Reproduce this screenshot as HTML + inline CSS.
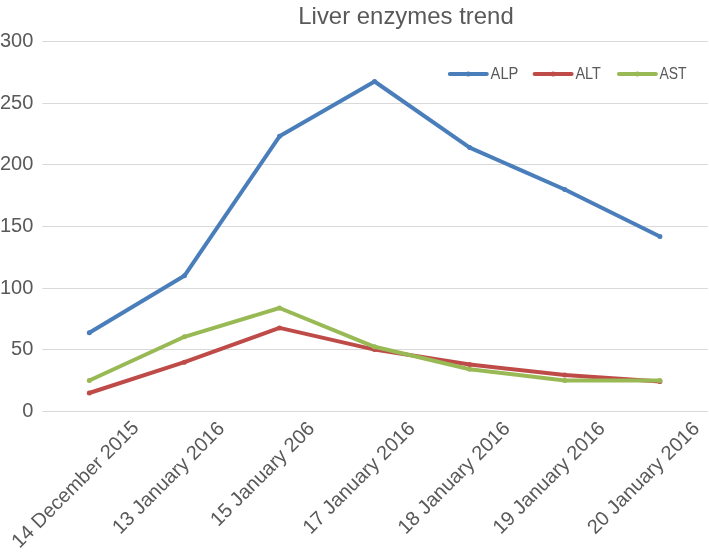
<!DOCTYPE html>
<html><head><meta charset="utf-8"><style>
html,body{margin:0;padding:0;background:#fff;}
svg{display:block;}
text{font-family:"Liberation Sans",sans-serif;fill:#595959;}
</style></head><body>
<div style="will-change:transform"><svg width="709" height="554" viewBox="0 0 709 554">
<g stroke="#D9D9D9" stroke-width="1.2"><line x1="42.3" x2="707.8" y1="41.50" y2="41.50"/><line x1="42.3" x2="707.8" y1="103.50" y2="103.50"/><line x1="42.3" x2="707.8" y1="164.50" y2="164.50"/><line x1="42.3" x2="707.8" y1="226.50" y2="226.50"/><line x1="42.3" x2="707.8" y1="288.50" y2="288.50"/><line x1="42.3" x2="707.8" y1="349.50" y2="349.50"/><line x1="42.3" x2="707.8" y1="411.50" y2="411.50"/></g>
<g font-size="20"><text x="33.3" y="47.00" text-anchor="end">300</text><text x="33.3" y="108.67" text-anchor="end">250</text><text x="33.3" y="170.33" text-anchor="end">200</text><text x="33.3" y="232.00" text-anchor="end">150</text><text x="33.3" y="293.67" text-anchor="end">100</text><text x="33.3" y="355.34" text-anchor="end">50</text><text x="33.3" y="417.00" text-anchor="end">0</text></g>
<text transform="translate(406,23.8) scale(0.985,1)" font-size="24.3" text-anchor="middle">Liver enzymes trend</text>
<g fill="none" stroke-width="4.0" stroke-linejoin="round" stroke-linecap="round"><path d="M89.30,332.80 L184.40,275.80 L279.50,136.30 L374.60,81.50 L469.70,147.60 L564.80,189.50 L659.90,236.50" stroke="#4A7EBB"/></g><circle cx="89.30" cy="332.80" r="2.5" fill="#4A7EBB"/><circle cx="184.40" cy="275.80" r="2.5" fill="#4A7EBB"/><circle cx="279.50" cy="136.30" r="2.5" fill="#4A7EBB"/><circle cx="374.60" cy="81.50" r="2.5" fill="#4A7EBB"/><circle cx="469.70" cy="147.60" r="2.5" fill="#4A7EBB"/><circle cx="564.80" cy="189.50" r="2.5" fill="#4A7EBB"/><circle cx="659.90" cy="236.50" r="2.5" fill="#4A7EBB"/>
<g fill="none" stroke-width="4.0" stroke-linejoin="round" stroke-linecap="round"><path d="M89.30,393.00 L184.40,362.20 L279.50,327.90 L374.60,349.60 L469.70,364.60 L564.80,375.10 L659.90,381.60" stroke="#BE4B48"/></g><circle cx="89.30" cy="393.00" r="2.5" fill="#BE4B48"/><circle cx="184.40" cy="362.20" r="2.5" fill="#BE4B48"/><circle cx="279.50" cy="327.90" r="2.5" fill="#BE4B48"/><circle cx="374.60" cy="349.60" r="2.5" fill="#BE4B48"/><circle cx="469.70" cy="364.60" r="2.5" fill="#BE4B48"/><circle cx="564.80" cy="375.10" r="2.5" fill="#BE4B48"/><circle cx="659.90" cy="381.60" r="2.5" fill="#BE4B48"/>
<g fill="none" stroke-width="4.0" stroke-linejoin="round" stroke-linecap="round"><path d="M89.30,380.50 L184.40,336.80 L279.50,308.00 L374.60,346.80 L469.70,369.20 L564.80,380.40 L659.90,380.40" stroke="#98B954"/></g><circle cx="89.30" cy="380.50" r="2.5" fill="#98B954"/><circle cx="184.40" cy="336.80" r="2.5" fill="#98B954"/><circle cx="279.50" cy="308.00" r="2.5" fill="#98B954"/><circle cx="374.60" cy="346.80" r="2.5" fill="#98B954"/><circle cx="469.70" cy="369.20" r="2.5" fill="#98B954"/><circle cx="564.80" cy="380.40" r="2.5" fill="#98B954"/><circle cx="659.90" cy="380.40" r="2.5" fill="#98B954"/>

<g stroke-width="4.0" stroke-linecap="round">
<line x1="449.8" x2="486.8" y1="74.1" y2="74.1" stroke="#4A7EBB"/>
<line x1="534.6" x2="571.6" y1="74.1" y2="74.1" stroke="#BE4B48"/>
<line x1="618.9" x2="655.9" y1="74.1" y2="74.1" stroke="#98B954"/>
</g>
<circle cx="468.3" cy="74.1" r="2.5" fill="#4A7EBB"/>
<circle cx="553.1" cy="74.1" r="2.5" fill="#BE4B48"/>
<circle cx="637.4" cy="74.1" r="2.5" fill="#98B954"/>
<g font-size="16">
<text transform="translate(490.6,79.1) scale(0.92,1)">ALP</text>
<text transform="translate(575.4,79.1) scale(0.905,1)">ALT</text>
<text transform="translate(659.4,79.1) scale(0.87,1)">AST</text>
</g>
<g font-size="20"><text transform="translate(139.80,428.80) rotate(-45)" text-anchor="end">14 December 2015</text><text transform="translate(225.60,429.70) rotate(-45)" text-anchor="end">13 January 2016</text><text transform="translate(315.70,429.70) rotate(-45)" text-anchor="end">15 January 206</text><text transform="translate(416.00,429.70) rotate(-45)" text-anchor="end">17 January 2016</text><text transform="translate(511.10,429.70) rotate(-45)" text-anchor="end">18 January 2016</text><text transform="translate(606.20,429.70) rotate(-45)" text-anchor="end">19 January 2016</text><text transform="translate(700.50,429.70) rotate(-45)" text-anchor="end">20 January 2016</text></g>
</svg></div>
</body></html>
